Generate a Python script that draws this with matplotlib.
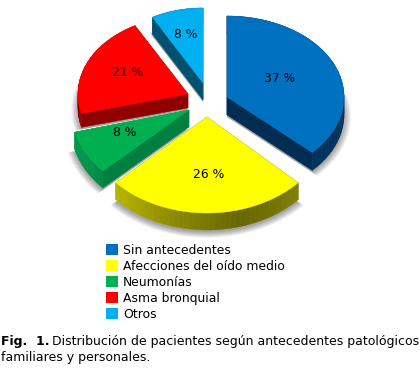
import numpy as np
import matplotlib
matplotlib.use('Agg')
import matplotlib.pyplot as plt
from matplotlib.patches import Polygon, Patch
from matplotlib.colors import LinearSegmentedColormap

# data
categories = ["Sin antecedentes", "Afecciones del oído medio", "Neumonías", "Asma bronquial", "Otros"]
shares = [37, 26, 8, 21, 8]
labels = ["37 %", "26 %", "8 %", "21 %", "8 %"]
colors = ["#0070c0", "#ffff00", "#00b050", "#ff0000", "#00b0f0"]

# look of each slice, in picture pixels (the fake perspective needs its own radii per slice)
apex = [(227, 97), (207, 117), (189, 110), (188, 94), (203, 83)]
rx = [117, 125, 118, 110, 105]
ry = [81, 96, 89, 78, 75]
depth = [18, 17, 17, 14, 17]
label_pos = [(280, 79), (209, 174), (125, 133), (128, 72), (186, 35)]
side_dark = ["#002d52", "#666600", "#008040", "#900000", "#005070"]
arc_colors = [["#002d52", "#00335c"], ["#7f7f00", "#666600", "#8c8a00", "#b8b400"],
              ["#008a45", "#009a4c"], ["#900000", "#900000"], ["#005070", "#005070"]]
draw_order = [4, 3, 2, 0, 1]

fig = plt.figure(figsize=(4.2, 3.71), dpi=100)
ax = fig.add_axes([0, 0, 1, 1])
ax.set_xlim(0, 420)
ax.set_ylim(371, 0)
ax.axis('off')

# angles run clockwise from 12 o'clock
edges = np.cumsum([0] + shares) * 3.6


def arc_points(i):
    t = np.radians(np.linspace(edges[i], edges[i + 1], 40))
    return apex[i][0] + rx[i] * np.sin(t), apex[i][1] - ry[i] * np.cos(t)


# soft grey shadow under everything, grows away from the apex only
for i in range(5):
    x, y = arc_points(i)
    ax0, ay0 = apex[i]
    px = np.r_[ax0, x]
    py = np.r_[ay0, y]
    for s in np.linspace(1.0, 1.06, 8):
        ax.add_patch(Polygon(np.c_[ax0 + (px - ax0) * s, ay0 + (py - ay0) * s + depth[i] + 2], closed=True,
                             fc='black', ec='none', alpha=0.05, zorder=1))

z = 2
for i in draw_order:
    x, y = arc_points(i)
    ax0, ay0 = apex[i]
    d = depth[i]
    # radial side walls
    for ex, ey in [(x[0], y[0]), (x[-1], y[-1])]:
        ax.add_patch(Polygon([(ax0, ay0), (ex, ey), (ex, ey + d), (ax0, ay0 + d)], closed=True,
                             fc=side_dark[i], ec=side_dark[i], lw=0.3, zorder=z))
    # outer wall, shaded along the arc
    cmap = LinearSegmentedColormap.from_list("side", arc_colors[i])
    for k in range(len(x) - 1):
        c = cmap(k / (len(x) - 2))
        ax.add_patch(Polygon([(x[k], y[k]), (x[k + 1], y[k + 1]), (x[k + 1], y[k + 1] + d), (x[k], y[k] + d)],
                             closed=True, fc=c, ec=c, lw=0.3, zorder=z))
    # top face
    ax.add_patch(Polygon(np.c_[np.r_[ax0, x], np.r_[ay0, y]], closed=True, fc=colors[i], ec=colors[i],
                         lw=0.3, zorder=z + 1))
    z += 2

for i in range(5):
    ax.text(label_pos[i][0], label_pos[i][1], labels[i], fontsize=8.9, color='black',
            ha='center', va='center', zorder=30)

handles = [Patch(fc=c, ec='none', label=n) for c, n in zip(colors, categories)]
ax.legend(handles=handles, loc='upper left', bbox_to_anchor=(106, 244), bbox_transform=ax.transData,
          frameon=False, fontsize=8.9, borderpad=0, borderaxespad=0, handlelength=0.97, handleheight=0.97,
          handletextpad=0.42, labelspacing=0.24)

ax.text(1, 342, "Fig.  1.", fontsize=9, fontweight='bold', ha='left', va='center')
ax.text(52, 342, "Distribución de pacientes según antecedentes patológicos", fontsize=9, ha='left', va='center')
ax.text(1, 358, "familiares y personales.", fontsize=9, ha='left', va='center')

fig.savefig('out.png', dpi=100)
